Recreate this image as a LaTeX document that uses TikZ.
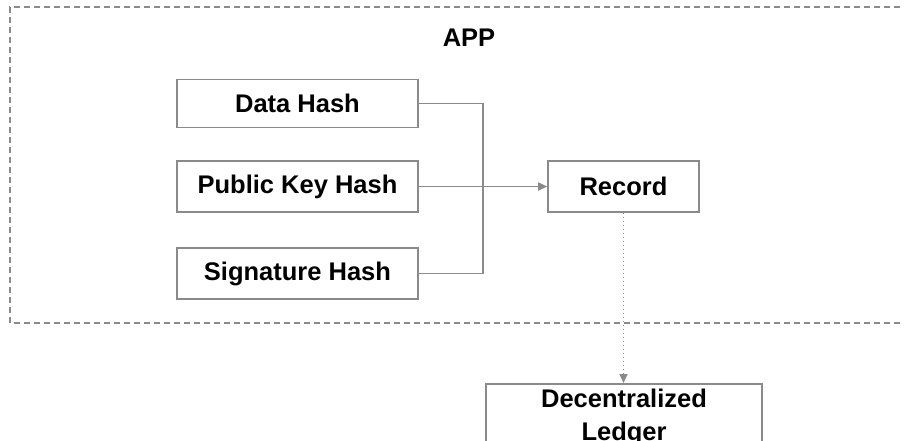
\documentclass[tikz,border=0pt]{standalone}
\usepackage{fontspec}
\setmainfont{Liberation Sans}
\usetikzlibrary{arrows.meta,positioning}
\definecolor{linegray}{HTML}{8A8A8A}
\tikzset{
  hashbox/.style={draw=linegray, line width=1.6pt, minimum width=241pt, minimum height=48pt,
    inner sep=0pt, font=\fontsize{25.5}{31}\selectfont\bfseries},
  recbox/.style={draw=linegray, line width=1.6pt, minimum width=151pt, minimum height=51pt,
    inner sep=0pt, font=\fontsize{25.5}{31}\selectfont\bfseries},
  ledgerbox/.style={draw=linegray, line width=1.6pt, minimum width=276pt,
    inner xsep=0pt, inner ysep=5.5pt, align=center, font=\fontsize{25.5}{33}\selectfont\bfseries},
  wire/.style={draw=linegray, line width=1.6pt},
  tip/.style={-{Triangle[length=9pt,width=8pt]}},
  frame/.style={draw=linegray, line width=1.6pt, dash pattern=on 6pt off 4pt},
}
\begin{document}
\begin{tikzpicture}[x=1pt,y=-1pt]
\useasboundingbox (0,0) rectangle (904,440);
\clip (0,0) rectangle (904,440);
% application frame
\draw[frame] (910,7) -- (10,7) -- (10,323) -- (910,323);
\node[font=\fontsize{25.5}{31}\selectfont\bfseries] (app) at (469,38) {APP};
% hash inputs
\node[hashbox] (data) at (297.5,103.5) {Data Hash};
\node[hashbox, minimum height=51pt] (pub) at (297.5,186.5) {Public Key Hash};
\node[hashbox, minimum height=51pt] (sig) at (297.5,273.5) {Signature Hash};
\node[recbox] (rec) at (623.5,186.5) {Record};
\node[ledgerbox, anchor=north] (led) at (624,383) {Decentralized\\Ledger};
% joining lines
\coordinate (bus) at (483,186.5);
\draw[wire] (data.east) -- (data.east -| bus) -- (sig.east -| bus) -- (sig.east);
\draw[wire, tip] (pub.east) -- (rec.west);
\draw[wire, tip, dash pattern=on 1.6pt off 2.4pt] (rec.south) -- (led.north -| rec.south);
\end{tikzpicture}
\end{document}
